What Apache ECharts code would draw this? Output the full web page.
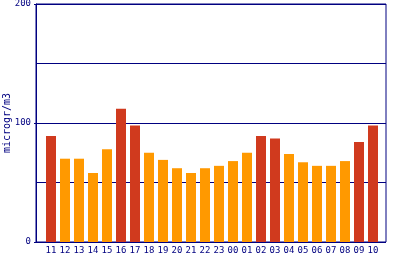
<!DOCTYPE html>
<html><head><meta charset="utf-8">
<script src="https://cdn.jsdelivr.net/npm/echarts@6/dist/echarts.min.js"></script>
<style>html,body{margin:0;padding:0;background:#fff}#c{width:400px;height:260px}</style>
</head><body><div id="c"></div>
<script>
const hours = ['11','12','13','14','15','16','17','18','19','20','21','22','23','00','01','02','03','04','05','06','07','08','09','10'];
const values = [89,70,70,58,78,112,98,75,69,62,58,62,64,68,75,89,87,74,67,64,64,68,84,98];
const yTicks = [0,100,200];
const unitLabel = 'microgr/m3';
const RED = '#d03a1e', ORANGE = '#ff9900', NAVY = '#000080';
const FONT = '"DejaVu Sans Mono", monospace';
const chart = echarts.init(document.getElementById('c'), null, {renderer:'canvas'});
chart.setOption({
  animation:false,
  grid:[
    {left:36, right:14, top:4, bottom:18, show:true, borderColor:NAVY, borderWidth:1, backgroundColor:'transparent', containLabel:false, outerBoundsMode:'none'},
    {left:44, width:336, top:4, bottom:18, containLabel:false, outerBoundsMode:'none'}
  ],
  xAxis:[
    {gridIndex:0, type:'value', min:0, max:1, show:false},
    {gridIndex:1, type:'category', data:hours, axisLine:{show:false}, axisTick:{show:false},
     axisLabel:{color:NAVY, fontFamily:FONT, fontSize:9, margin:4, interval:0}}
  ],
  yAxis:[
    {gridIndex:0, type:'value', min:yTicks[0], max:yTicks[yTicks.length-1], interval:100,
     name:unitLabel, nameLocation:'middle', nameGap:24, nameMoveOverlap:false,
     nameTextStyle:{color:NAVY, fontFamily:FONT, fontSize:10},
     axisLine:{show:true, lineStyle:{color:NAVY, width:1}},
     axisTick:{show:true, length:2, lineStyle:{color:NAVY}},
     axisLabel:{color:NAVY, fontFamily:FONT, fontSize:9, margin:5},
     splitLine:{show:false}},
    {gridIndex:1, type:'value', min:yTicks[0], max:yTicks[yTicks.length-1], show:false, splitLine:{show:false}},
    {gridIndex:0, type:'value', min:0, max:200, interval:50, axisLine:{show:false}, axisTick:{show:false},
     axisLabel:{show:false}, splitLine:{show:true, lineStyle:{color:NAVY, width:1}}}
  ],
  series:[{
    type:'bar', xAxisIndex:1, yAxisIndex:1, barWidth:10,
    data: values.map(v => ({value:v, itemStyle:{color: v > 80 ? RED : ORANGE}})),
    z:3
  }]
});
</script></body></html>
